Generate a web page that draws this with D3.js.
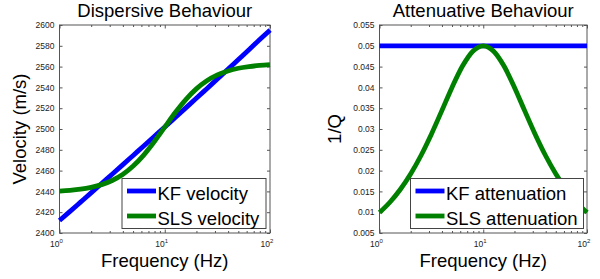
<!DOCTYPE html>
<html><head><meta charset="utf-8">
<script src="https://cdn.jsdelivr.net/npm/d3@7"></script>
<style>body{margin:0;background:#fff}svg{display:block}text{font-family:"Liberation Sans",Arial,sans-serif}</style>
</head><body><svg id="c" width="600" height="279"></svg>
<script>
// Frequencies (Hz), log-spaced 10^(k/10), k=0..20
const freqs = [1,1.259,1.585,1.995,2.512,3.162,3.981,5.012,6.310,7.943,10,12.59,15.85,19.95,25.12,31.62,39.81,50.12,63.10,79.43,100];
const kfVelocity  = [2412,2420.8,2429.7,2438.6,2447.6,2456.5,2465.5,2474.6,2483.7,2492.8,2501.9,2511.1,2520.3,2529.5,2538.8,2548.1,2557.4,2566.8,2576.2,2585.7,2595.1];
const slsVelocity = [2440.3,2441.0,2442.1,2443.9,2446.5,2450.5,2456.3,2464.4,2474.9,2487.7,2501.8,2515.8,2528.3,2538.6,2546.4,2552.0,2555.8,2558.4,2560.0,2561.1,2561.8];
const kfAtten  = [0.05,0.05,0.05,0.05,0.05,0.05,0.05,0.05,0.05,0.05,0.05,0.05,0.05,0.05,0.05,0.05,0.05,0.05,0.05,0.05,0.05];
const slsAtten = [0.0099,0.01239,0.01546,0.01919,0.02363,0.02875,0.03436,0.04006,0.04513,0.0487,0.05,0.0487,0.04513,0.04006,0.03436,0.02875,0.02363,0.01919,0.01546,0.01239,0.0099];
const xMajor = [1,10,100];
const xMajorExp = ["0","1","2"];
const xMinor = [2,3,4,5,6,7,8,9,20,30,40,50,60,70,80,90];
const velTicks = [2400,2420,2440,2460,2480,2500,2520,2540,2560,2580,2600];
const attTicks = [0.005,0.01,0.015,0.02,0.025,0.03,0.035,0.04,0.045,0.05,0.055];
const attTickLabels = ["0.005","0.01","0.015","0.02","0.025","0.03","0.035","0.04","0.045","0.05","0.055"];
const titles = ["Dispersive Behaviour","Attenuative Behaviour"];
const yLabels = ["Velocity (m/s)","1/Q"];
const legendNames = [["KF velocity","SLS velocity"],["KF attenuation","SLS attenuation"]];
const colors = ["#0000ff","#008000"];

const svg = d3.select("#c");
const panels = [
  {x0:59.5,x1:270,y0:25,y1:233,dom:[2400,2600],ticks:velTicks,labels:velTicks.map(String),series:[kfVelocity,slsVelocity],
   leg:{x:122,y:178.5,w:144,h:50},ylx:26},
  {x0:379.5,x1:587,y0:25,y1:233,dom:[0.005,0.055],ticks:attTicks,labels:attTickLabels,series:[kfAtten,slsAtten],
   leg:{x:410.5,y:178.5,w:173,h:50},ylx:341}
];
const axisCol="#555", txtCol="#222";
panels.forEach((p,i)=>{
  const g = svg.append("g");
  const x = d3.scaleLog().domain([1,100]).range([p.x0,p.x1]);
  const y = d3.scaleLinear().domain(p.dom).range([p.y1,p.y0]);
  // frame
  g.append("rect").attr("x",p.x0).attr("y",p.y0).attr("width",p.x1-p.x0).attr("height",p.y1-p.y0)
    .attr("fill","#fff").attr("stroke",axisCol).attr("stroke-width",1);
  // y ticks left/right
  const yl = g.append("g").attr("transform",`translate(${p.x0},0)`)
    .call(d3.axisLeft(y).tickValues(p.ticks).tickFormat((d,j)=>p.labels[j]).tickSize(-3).tickPadding(5));
  const yr = g.append("g").attr("transform",`translate(${p.x1},0)`)
    .call(d3.axisRight(y).tickValues(p.ticks).tickFormat("").tickSize(-3));
  // x ticks bottom/top major and minor
  const xb = g.append("g").attr("transform",`translate(0,${p.y1})`)
    .call(d3.axisBottom(x).tickValues(xMajor).tickFormat("").tickSize(-3.5));
  const xt = g.append("g").attr("transform",`translate(0,${p.y0})`)
    .call(d3.axisTop(x).tickValues(xMajor).tickFormat("").tickSize(-3.5));
  const xbm = g.append("g").attr("transform",`translate(0,${p.y1})`)
    .call(d3.axisBottom(x).tickValues(xMinor).tickFormat("").tickSize(-2));
  const xtm = g.append("g").attr("transform",`translate(0,${p.y0})`)
    .call(d3.axisTop(x).tickValues(xMinor).tickFormat("").tickSize(-2));
  [yl,yr,xb,xt,xbm,xtm].forEach(a=>{
    a.select(".domain").remove();
    a.selectAll("line").attr("stroke",axisCol);
    a.selectAll("text").attr("fill",txtCol).style("font-size","8.5px").style("font-family","'Liberation Sans',Arial,sans-serif");
  });
  // x tick labels with superscript
  xMajor.forEach((v,j)=>{
    const t = g.append("text").attr("x",x(v)-3).attr("y",p.y1+13.5).attr("text-anchor","middle")
      .attr("fill",txtCol).style("font-size","8.5px");
    t.append("tspan").text("10");
    t.append("tspan").attr("dy",-4).style("font-size","6px").text(xMajorExp[j]);
  });
  // lines
  const line = d3.line().x((d,j)=>x(freqs[j])).y(d=>y(d)).curve(d3.curveMonotoneX);
  p.series.forEach((s,k)=>{
    g.append("path").datum(s).attr("d",line).attr("fill","none").attr("stroke",colors[k])
      .attr("stroke-width",4.8).attr("stroke-linejoin","round");
  });
  // titles and labels
  g.append("text").attr("x",(p.x0+p.x1)/2).attr("y",17).attr("text-anchor","middle")
    .style("font-size","18.5px").attr("fill","#000").text(titles[i]);
  g.append("text").attr("x",(p.x0+p.x1)/2).attr("y",266.5).attr("text-anchor","middle")
    .style("font-size","18.5px").attr("fill","#000").text("Frequency (Hz)");
  g.append("text").attr("transform",`translate(${p.ylx},${(p.y0+p.y1)/2}) rotate(-90)`).attr("text-anchor","middle")
    .style("font-size","18.5px").attr("fill","#000").text(yLabels[i]);
  // legend
  const L = p.leg;
  const lg = g.append("g");
  lg.append("rect").attr("x",L.x).attr("y",L.y).attr("width",L.w).attr("height",L.h)
    .attr("fill","#fff").attr("stroke","#444").attr("stroke-width",1);
  legendNames[i].forEach((nm,k)=>{
    const cy = L.y + 12.5 + k*25;
    lg.append("line").attr("x1",L.x+5).attr("x2",L.x+34).attr("y1",cy).attr("y2",cy)
      .attr("stroke",colors[k]).attr("stroke-width",4.8);
    lg.append("text").attr("x",L.x+35.5).attr("y",cy+8.5).style("font-size","18.5px").attr("fill","#000").text(nm);
  });
});
</script></body></html>
